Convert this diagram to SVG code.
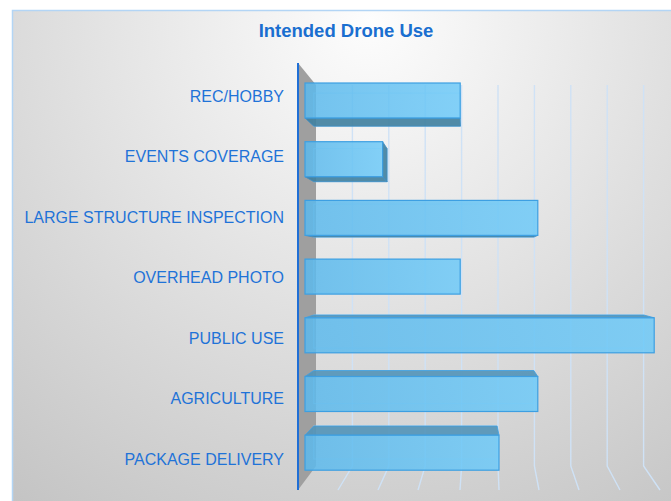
<svg xmlns="http://www.w3.org/2000/svg" width="671" height="501" viewBox="0 0 671 501">
<defs>
<radialGradient id="bg" gradientUnits="userSpaceOnUse" cx="370" cy="20" r="620">
<stop offset="0" stop-color="#fdfdfd"/>
<stop offset="1" stop-color="#c2c2c2"/>
</radialGradient>
<linearGradient id="barfill" x1="0" y1="0" x2="1" y2="0">
<stop offset="0" stop-color="#5cb9ec"/>
<stop offset="1" stop-color="#6fcaf8"/>
</linearGradient>
</defs>
<style>
.lbl{font-family:"Liberation Sans",Arial,sans-serif;font-size:16px;fill:#1f73d8;text-anchor:end}
.title{font-family:"Liberation Sans",Arial,sans-serif;font-size:18.5px;font-weight:bold;fill:#1a6fd0;text-anchor:middle}
.grid{fill:none;stroke:#cfe2f6;stroke-width:1.4}
.front{fill:url(#barfill);fill-opacity:0.85;stroke:#3d9fe2;stroke-width:1.2}
.back{fill:none;stroke:#a8e0ff;stroke-opacity:0.6;stroke-width:1}
.under{fill:#3f7f9f;fill-opacity:0.9;stroke:#3d8fc8;stroke-width:0.8}
.topf{fill:#5294b8;fill-opacity:0.9;stroke:#3d9fe2;stroke-width:0.8}
</style>
<rect x="0" y="0" width="671" height="501" fill="#ffffff"/>
<rect x="12" y="10" width="670" height="500" fill="url(#bg)"/>
<path d="M12.5 501 V10.5 H671" fill="none" stroke="#b3d5f5" stroke-width="1.5"/>
<text class="title" x="346" y="37">Intended Drone Use</text>
<g id="wall">
<polygon points="298,63 316,85 316,466 298,490" fill="#9f9f9f"/>
</g>
<g id="gridlines">
<polyline class="grid" points="352.4,85 352.4,466 338,490"/>
<polyline class="grid" points="388.8,85 388.8,466 378,490"/>
<polyline class="grid" points="425.2,85 425.2,466 418,490"/>
<polyline class="grid" points="461.6,85 461.6,466 460,490"/>
<polyline class="grid" points="498,85 498,466 499,490"/>
<polyline class="grid" points="534.4,85 534.4,466 539,490"/>
<polyline class="grid" points="570.8,85 570.8,466 579,490"/>
<polyline class="grid" points="607.2,85 607.2,466 620,490"/>
<polyline class="grid" points="643.6,85 643.6,466 660,490"/>
</g>
<g id="axis">
<line x1="298" y1="63" x2="298" y2="490" stroke="#1f6fd6" stroke-width="2"/>
</g>
<g id="labels">
<text class="lbl" x="284" y="101.5">REC/HOBBY</text>
<text class="lbl" x="284" y="162">EVENTS COVERAGE</text>
<text class="lbl" x="284" y="222.5">LARGE STRUCTURE INSPECTION</text>
<text class="lbl" x="284" y="283">OVERHEAD PHOTO</text>
<text class="lbl" x="284" y="343.5">PUBLIC USE</text>
<text class="lbl" x="284" y="404">AGRICULTURE</text>
<text class="lbl" x="284" y="464.5">PACKAGE DELIVERY</text>
</g>
<g id="bar-rec-hobby">
<rect class="back" x="313.8" y="93.1" width="146.7" height="33.1"/>
<polygon class="under" points="305,118 460.2,118 460.5,126.2 313.8,126.2"/>
<rect class="front" x="305" y="83" width="155.2" height="35"/>
</g>
<g id="bar-events-coverage">
<rect class="back" x="313.8" y="148.6" width="73.3" height="33.1"/>
<polygon class="under" points="305,176.7 382.6,176.7 387.1,181.7 313.8,181.7"/>
<polygon class="under" points="382.6,141.7 387.1,148.6 387.1,181.7 382.6,176.7"/>
<rect class="front" x="305" y="141.7" width="77.6" height="35"/>
</g>
<g id="bar-large-structure-inspection">
<rect class="back" x="313.8" y="204.1" width="220" height="33"/>
<polygon class="under" points="305,235.4 537.8,235.4 533.8,237.1 313.8,237.1"/>
<rect class="front" x="305" y="200.4" width="232.8" height="35"/>
</g>
<g id="bar-overhead-photo">
<rect class="back" x="313.8" y="259.5" width="146.7" height="33.1"/>
<rect class="front" x="305" y="259.1" width="155.2" height="35"/>
</g>
<g id="bar-public-use">
<rect class="back" x="313.8" y="315" width="330" height="33.1"/>
<polygon class="topf" points="313.8,315 643.8,315 654.2,317.8 305,317.8"/>
<rect class="front" x="305" y="317.8" width="349.2" height="35"/>
</g>
<g id="bar-agriculture">
<rect class="back" x="313.8" y="370.5" width="220" height="33.1"/>
<polygon class="topf" points="313.8,370.5 533.8,370.5 537.8,376.5 305,376.5"/>
<rect class="front" x="305" y="376.5" width="232.8" height="35"/>
</g>
<g id="bar-package-delivery">
<rect class="back" x="313.8" y="426" width="183.3" height="33"/>
<polygon class="topf" points="313.8,426 497.1,426 499,435.2 305,435.2"/>
<rect class="front" x="305" y="435.2" width="194" height="35"/>
</g>
</svg>
